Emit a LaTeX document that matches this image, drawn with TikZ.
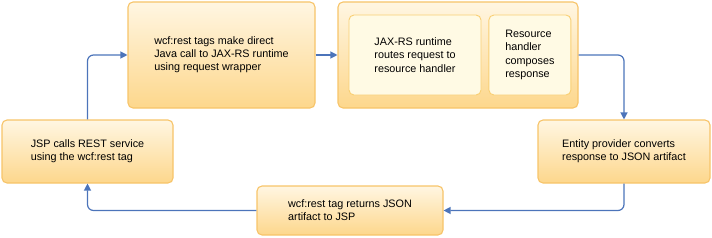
\documentclass[tikz,border=0pt]{standalone}
\usepackage{fontspec}
\setmainfont{Liberation Sans}
\usetikzlibrary{arrows.meta,positioning}
\definecolor{BoxTop}{RGB}{255,246,226}
\definecolor{BoxBottom}{RGB}{253,215,140}
\definecolor{BoxEdge}{RGB}{247,196,105}
\definecolor{InnerFill}{RGB}{255,250,228}
\definecolor{InnerEdge}{RGB}{249,207,115}
\definecolor{FlowBlue}{RGB}{76,116,186}
\tikzset{
  stage/.style={draw=BoxEdge,rounded corners=5pt,top color=BoxTop,
    bottom color=BoxBottom,line width=1.1pt,align=left,
    font=\fontsize{10.8}{13.2}\selectfont,inner sep=0pt},
  inner/.style={draw=InnerEdge,rounded corners=5pt,fill=InnerFill,
    line width=0.9pt,align=left,font=\fontsize{10.8}{13.2}\selectfont,
    inner sep=0pt},
  arrow/.style={-{Triangle[length=7pt,width=7pt]},line width=1.2pt,
    FlowBlue,rounded corners=6pt}
}
\begin{document}
\begin{tikzpicture}[x=1pt,y=-1pt]
      \useasboundingbox (0,0) rectangle (712,238);
      \node[stage,minimum width=171pt,minimum height=63pt] (jsp) at (87.5,151.5)
        {JSP calls REST service\\using the wcf:rest tag};
      \node[stage,minimum width=187pt,minimum height=106pt] (wrapper) at (221.5,55)
        {wcf:rest tags make direct\\Java call to JAX-RS runtime\\using request wrapper};
      \node[stage,minimum width=240pt,minimum height=106pt] (runtime) at (458,55) {};
      \node[inner,minimum width=132pt,minimum height=80pt] (routes) at (415,55)
        {JAX-RS runtime\\routes request to\\resource handler};
      \node[inner,minimum width=82pt,minimum height=80pt,right=7pt of routes] (handler)
        {Resource\\handler\\composes\\response};
      \node[stage,minimum width=172pt,minimum height=63pt] (entity) at (624,151.5)
        {Entity provider converts\\response to JSON artifact};
      \node[stage,minimum width=186pt,minimum height=49pt] (returns) at (350,210.5)
        {wcf:rest tag returns JSON\\artifact to JSP};
      \draw[arrow] (jsp.north) |- (wrapper.west);
      \draw[arrow] (wrapper) -- (runtime);
      \draw[arrow] (runtime.east) -| (entity.north);
      \draw[arrow] (entity.south) |- (returns.east);
      \draw[arrow] (returns.west) -| (jsp.south);
    \end{tikzpicture}
\end{document}
